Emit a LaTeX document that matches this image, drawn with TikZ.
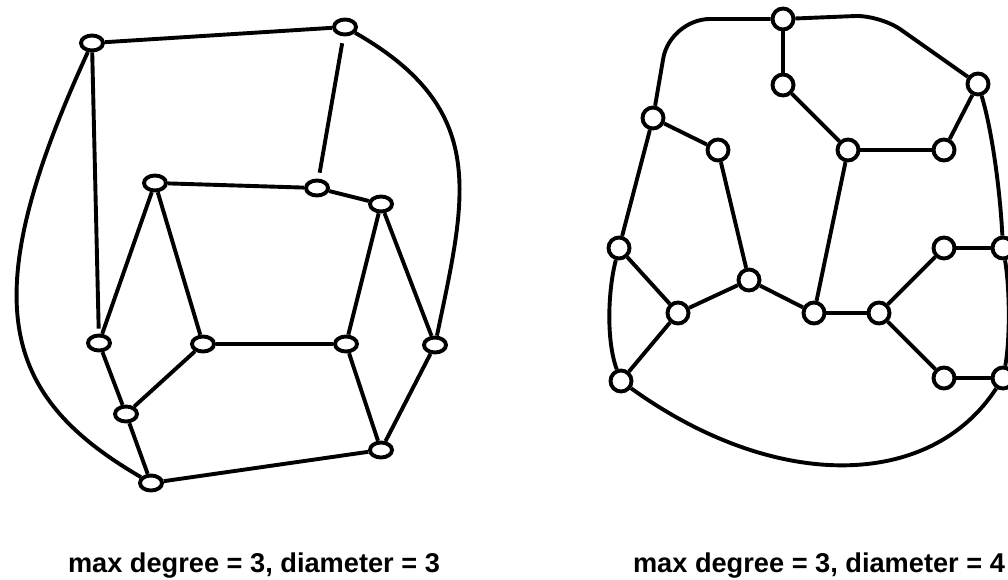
\documentclass[tikz,border=0pt]{standalone}
\usepackage{fontspec}
\setmainfont{Liberation Sans}
\usetikzlibrary{shapes.geometric}
\begin{document}
\begin{tikzpicture}[x=1pt,y=-1pt,
  link/.style={line width=3.9pt},
  oval/.style={ellipse, draw, line width=3.9pt, minimum width=22pt,
               minimum height=15pt, inner sep=0pt},
  dot/.style={circle, draw, line width=3.9pt, minimum size=21pt, inner sep=0pt},
  caption/.style={font=\bfseries\fontsize{27.2}{32}\selectfont, anchor=base}]
\useasboundingbox (0,0) rectangle (1008,580);

% ---------- first graph: twelve vertices ----------
\node[oval] (A) at (92,43) {};
\node[oval] (B) at (345,27) {};
\node[oval] (C) at (317,188) {};
\node[oval] (D) at (155,183) {};
\node[oval] (E) at (381,204) {};
\node[oval] (F) at (99,343) {};
\node[oval] (G) at (203,344) {};
\node[oval] (H) at (346,344) {};
\node[oval] (I) at (435,345) {};
\node[oval] (J) at (126,414) {};
\node[oval] (K) at (381,450) {};
\node[oval] (L) at (151,483) {};

\draw[link] (A) -- (B);
\draw[link, shorten >=5pt] (A) -- (F);
\draw[link, shorten <=7pt, shorten >=6pt] (B) -- (C);
\draw[link] (D) -- (C);
\draw[link] (C) -- (E);
\draw[link] (D) -- (F);
\draw[link] (D) -- (G);
\draw[link] (E) -- (H);
\draw[link] (E) -- (I);
\draw[link] (G) -- (H);
\draw[link] (G) -- (J);
\draw[link] (F) -- (J);
\draw[link] (J) -- (L);
\draw[link] (H) -- (K);
\draw[link] (I) -- (K);
\draw[link] (L) -- (K);
\draw[link] (A) .. controls (-26,300) and (0,395) .. (L);
\draw[link] (B) .. controls (490,110) and (466,196) .. (I);

\node[caption] (capL) at (254,572) {max degree = 3, diameter = 3};

% ---------- second graph: seventeen vertices ----------
\node[dot] (R1) at (783,19) {};
\node[dot] (R2) at (783,85) {};
\node[dot] (R3) at (653,118) {};
\node[dot] (R4) at (718,150) {};
\node[dot] (R5) at (848,150) {};
\node[dot] (R6) at (944,150) {};
\node[dot] (R7) at (978,84) {};
\node[dot] (R8) at (619,248) {};
\node[dot] (R9) at (749,280) {};
\node[dot] (R10) at (944,248) {};
\node[dot] (R11) at (1003,248) {};
\node[dot] (R12) at (678,313) {};
\node[dot] (R13) at (814,313) {};
\node[dot] (R14) at (879,313) {};
\node[dot] (R15) at (621,381) {};
\node[dot] (R16) at (944,378) {};
\node[dot] (R17) at (1003,378) {};

\draw[link] (R1) -- (R2);
\draw[link] (R2) -- (R5);
\draw[link] (R5) -- (R6);
\draw[link] (R6) -- (R7);
\draw[link] (R5) -- (R13);
\draw[link] (R3) -- (R4);
\draw[link] (R4) -- (R9);
\draw[link] (R9) -- (R12);
\draw[link] (R9) -- (R13);
\draw[link] (R13) -- (R14);
\draw[link] (R14) -- (R10);
\draw[link] (R10) -- (R11);
\draw[link] (R14) -- (R16);
\draw[link] (R16) -- (R17);
\draw[link] (R12) -- (R8);
\draw[link] (R12) -- (R15);
\draw[link] (R3) -- (R8);
\draw[link] (R8) .. controls (608,290) and (606,340) .. (R15);
\draw[link, rounded corners=40pt] (R3) -- (670,19) -- (R1);
\draw[link, rounded corners=25pt] (R1) -- (880,15) -- (R7);
\draw[link] (R7) .. controls (992,130) and (1000,190) .. (R11);
\draw[link] (R11) .. controls (1010,290) and (1010,340) .. (R17);
\draw[link] (R15) .. controls (775,492) and (930,490) .. (R17);

\node[caption] (capR) at (819,572) {max degree = 3, diameter = 4};
\end{tikzpicture}
\end{document}
